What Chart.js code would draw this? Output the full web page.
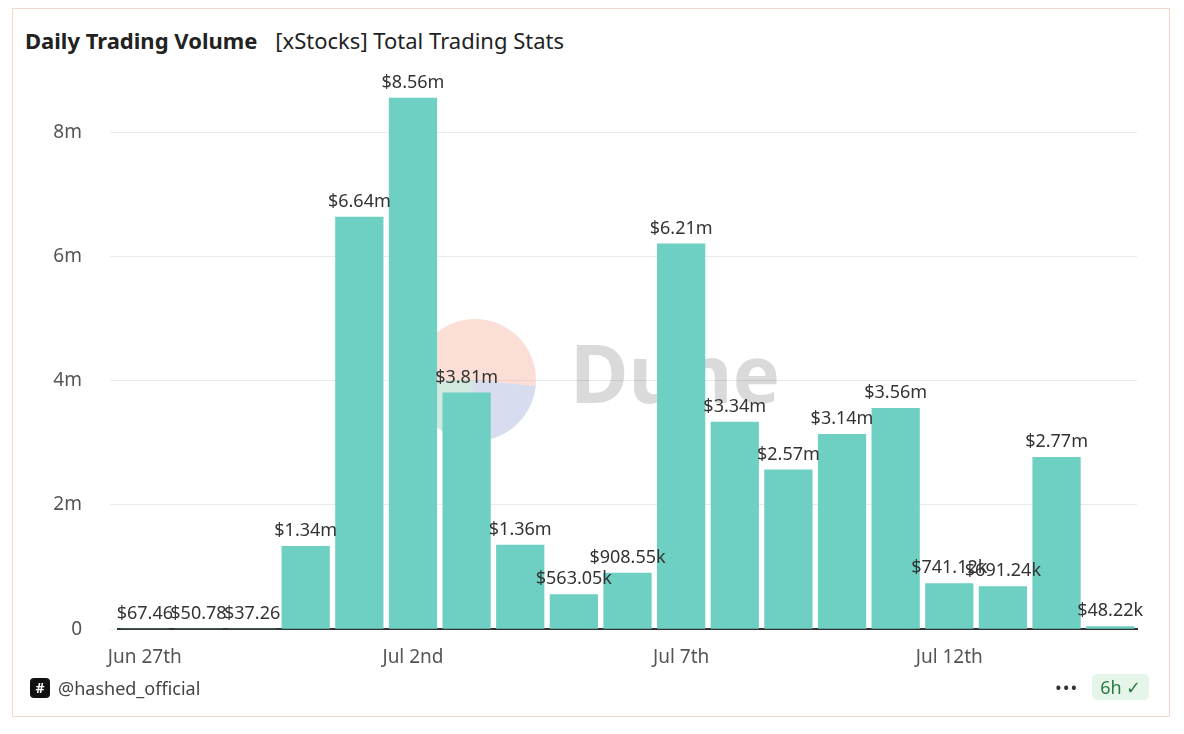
<!DOCTYPE html>
<html><head><meta charset="utf-8">
<script src="https://cdn.jsdelivr.net/npm/chart.js@4"></script>
<style>
body{margin:0;background:#fff;font-family:"Noto Sans",sans-serif;}
#card{position:absolute;left:12px;top:8px;width:1158px;height:709px;border:1px solid #f0d9cc;box-sizing:border-box;}
#title{position:absolute;left:25px;top:25px;font-size:22px;color:#222;}
#title b{font-weight:700;margin-right:18px}
#wrap{position:absolute;left:20px;top:58px;width:1140px;height:620px;}
#foot{position:absolute;left:30px;top:676px;font-size:18px;color:#444;display:flex;align-items:center;}
#foot span.i{display:inline-block;width:20px;height:20px;background:#111;color:#fff;border-radius:4px;font-size:14px;text-align:center;line-height:20px;margin-right:8px;font-weight:700}
#right{position:absolute;left:1055px;top:674px;display:flex;align-items:center;font-size:18px}
#badge{margin-left:14px;background:#e6f5ea;color:#2c7a43;border-radius:5px;padding:1px 8px;}
</style></head><body>
<div id="card"></div>
<div id="title"><b>Daily Trading Volume</b>[xStocks] Total Trading Stats</div>
<div id="wrap"><canvas id="c"></canvas></div>
<div id="foot"><span class="i">#</span>@hashed_official</div>
<div id="right"><span style="letter-spacing:1px;color:#333">•••</span><span id="badge">6h ✓</span></div>
<script>
const categories=["Jun 27th","Jun 28th","Jun 29th","Jun 30th","Jul 1st","Jul 2nd","Jul 3rd","Jul 4th","Jul 5th","Jul 6th","Jul 7th","Jul 8th","Jul 9th","Jul 10th","Jul 11th","Jul 12th","Jul 13th","Jul 14th","Jul 15th"];
const volume=[67.46,50.78,37.26,1340000,6640000,8560000,3810000,1360000,563050,908550,6210000,3340000,2570000,3140000,3560000,741120,691240,2770000,48220];
const yTicks=[0,2e6,4e6,6e6,8e6];
function fmt(v){if(v>=1e6)return '$'+(v/1e6).toFixed(2)+'m';if(v>=1e3)return '$'+(v/1e3).toFixed(2)+'k';return '$'+v.toFixed(2);}
const deco={id:'deco',beforeDatasetsDraw(ch){const c=ch.ctx;c.save();
 const x=455,y=380-58,r=61;
 c.globalAlpha=0.35;c.fillStyle='#f4a48c';c.beginPath();c.moveTo(x,y);c.arc(x,y,r,Math.PI,Math.PI*2+0.1);c.fill();
 c.fillStyle='#8e9cd0';c.beginPath();c.moveTo(x,y);c.arc(x,y,r,0.1,Math.PI*0.6);c.fill();
 c.fillStyle='#7fc0a4';c.beginPath();c.moveTo(x,y);c.arc(x,y,r,Math.PI*0.6,Math.PI);c.fill();
 c.globalAlpha=0.18;c.fillStyle='#333';c.font='bold 80px "Noto Sans"';c.textBaseline='middle';c.fillText('Dune',550,y);
 c.restore();},
 afterDatasetsDraw(ch){const c=ch.ctx;c.save();c.font='18px "Noto Sans"';c.fillStyle='#333';c.textAlign='center';c.textBaseline='bottom';
 ch.getDatasetMeta(0).data.forEach((b,i)=>c.fillText(fmt(volume[i]),b.x,b.y-6));c.restore();}};
new Chart(document.getElementById('c'),{type:'bar',
data:{labels:categories,datasets:[{data:volume,backgroundColor:'#6ecfc3',categoryPercentage:0.9,barPercentage:1}]},
options:{responsive:true,maintainAspectRatio:false,animation:false,layout:{padding:{top:39,right:23}},
plugins:{legend:{display:false},tooltip:{enabled:false}},
scales:{x:{grid:{display:false},border:{color:'#333',width:2},ticks:{autoSkip:false,maxRotation:0,padding:9,color:'#555',font:{size:19,family:'Noto Sans'},callback:(v,i)=>i%5===0?categories[i]:''}},
y:{min:0,max:8560000,afterFit:a=>{a.width=98},afterBuildTicks:a=>{a.ticks=yTicks.map(v=>({value:v}))},border:{display:false},grid:{color:'#eaeaea'},
ticks:{color:'#555',padding:28,font:{size:19,family:'Noto Sans'},callback:v=>v===0?'0':(v/1e6)+'m'}}}},
plugins:[deco]});
</script></body></html>
